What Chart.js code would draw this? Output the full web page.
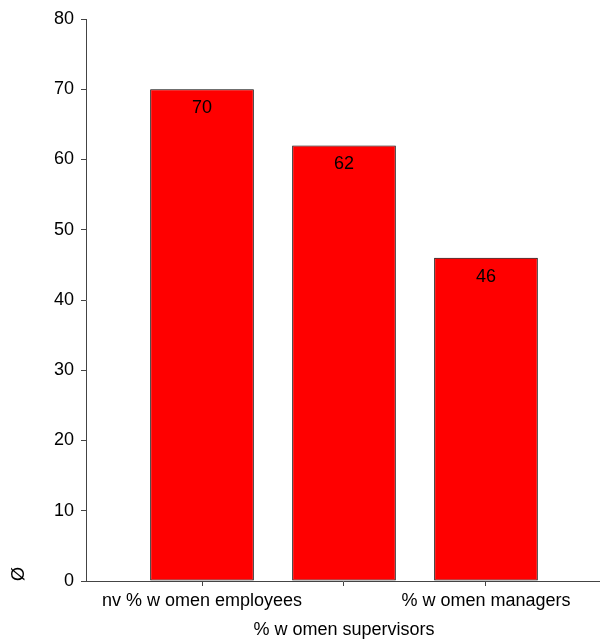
<!DOCTYPE html>
<html>
<head>
<meta charset="utf-8">
<script src="https://cdn.jsdelivr.net/npm/chart.js@4/dist/chart.umd.min.js"></script>
<style>
  html, body { margin: 0; padding: 0; background: #fff; }
  #wrap { width: 600px; height: 641px; position: relative; }
</style>
</head>
<body>
<div id="wrap"><canvas id="barChart"></canvas></div>
<script>
// data
const categories = ['nv % w omen employees', '% w omen supervisors', '% w omen managers'];
const values = [70, 62, 46];
const yTicks = [0, 10, 20, 30, 40, 50, 60, 70, 80];
const yTitle = 'Ø';

const positions = categories.map((_, i) => i + 1);
const points = positions.map((x, i) => ({ x: x, y: values[i] }));

// label angka di dalam batang
const valueLabels = {
  id: 'valueLabels',
  afterDatasetsDraw(chart) {
    const ctx = chart.ctx;
    const meta = chart.getDatasetMeta(0);
    ctx.save();
    ctx.font = '18px "Liberation Sans", Arial, sans-serif';
    ctx.fillStyle = '#000';
    ctx.textAlign = 'center';
    ctx.textBaseline = 'middle';
    meta.data.forEach((bar, i) => {
      ctx.fillText(String(values[i]), bar.x, bar.y + 19);
    });
    ctx.restore();
  }
};

const ctx = document.getElementById('barChart').getContext('2d');
new Chart(ctx, {
  type: 'bar',
  data: {
    datasets: [{
      data: points,
      backgroundColor: '#ff0000',
      borderColor: '#000000',
      borderWidth: 1,
      borderSkipped: false,
      categoryPercentage: 1,
      barPercentage: 0.73
    }]
  },
  options: {
    responsive: true,
    maintainAspectRatio: false,
    animation: false,
    layout: { padding: { top: 19, right: 0, bottom: 0, left: 0 } },
    plugins: {
      legend: { display: false },
      tooltip: { enabled: false }
    },
    scales: {
      x: {
        type: 'linear',
        min: 0.183,
        max: 3.803,
        offset: false,
        afterBuildTicks: (scale) => {
          scale.ticks = positions.map((v) => ({ value: v }));
        },
        afterFit: (scale) => { scale.height = 60; },
        border: { display: true, color: '#444', width: 1 },
        grid: { offset: false, drawOnChartArea: false, drawTicks: true, tickLength: 5, color: '#444' },
        ticks: {
          autoSkip: false,
          maxRotation: 0,
          padding: 1,
          color: '#000',
          font: { family: '"Liberation Sans", Arial, sans-serif', size: 18, lineHeight: 1.6 },
          callback: (v) => {
            const i = positions.indexOf(v);
            if (i < 0) return '';
            return i === 1 ? ['', categories[i]] : categories[i];
          }
        }
      },
      y: {
        min: 0,
        max: 80,
        afterBuildTicks: (scale) => {
          scale.ticks = yTicks.map((v) => ({ value: v }));
        },
        afterFit: (scale) => { scale.width = 86; },
        border: { display: true, color: '#444', width: 1 },
        grid: { drawOnChartArea: false, drawTicks: true, tickLength: 5, color: '#444' },
        ticks: {
          padding: 7,
          color: '#000',
          font: { family: '"Liberation Sans", Arial, sans-serif', size: 18 }
        },
        title: {
          display: true,
          text: yTitle,
          align: 'start',
          color: '#000',
          padding: { top: 8, bottom: 0 },
          font: { family: '"Liberation Sans", Arial, sans-serif', size: 18 }
        }
      }
    }
  },
  plugins: [valueLabels]
});
</script>
</body>
</html>
